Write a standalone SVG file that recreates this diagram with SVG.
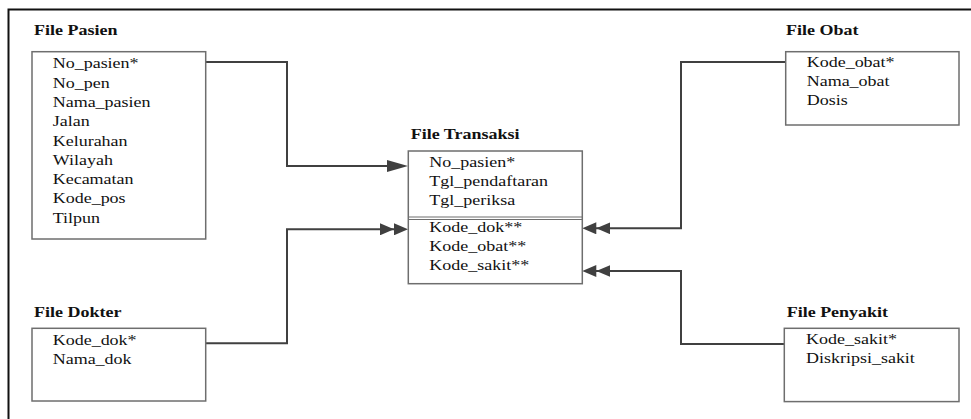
<svg xmlns="http://www.w3.org/2000/svg" width="971" height="419" viewBox="0 0 971 419">
<style>
.t{font-family:"Liberation Serif","Times New Roman",serif;font-size:15px;fill:#111}
.b{font-weight:bold}
.box{fill:#fff;stroke:#6e6e6e;stroke-width:1.5}
.c{fill:none;stroke:#404040;stroke-width:2}
.frame{fill:none;stroke:#111;stroke-width:2}
</style>
<defs>
<marker id="a1" markerUnits="userSpaceOnUse" markerWidth="21" markerHeight="12" viewBox="0 0 21 12" refX="17" refY="6" orient="auto">
<path d="M0,0 L21,6 L0,12 z" fill="#404040"/>
</marker>
<marker id="a2" markerUnits="userSpaceOnUse" markerWidth="28" markerHeight="12" viewBox="0 0 28 12" refX="24" refY="6" orient="auto">
<path d="M0,0 L14,6 L0,12 z M14,0 L28,6 L14,12 z" fill="#404040"/>
</marker>
</defs>
<rect width="971" height="419" fill="#fff"/>
<path class="frame" d="M8.5,419 V9.5 H971"/>

<g id="connectors">
<path class="c" d="M205.7,62 H287 V166 H404" marker-end="url(#a1)"/>
<path class="c" d="M205.7,343.3 H287 V229.3 H404" marker-end="url(#a2)"/>
<path class="c" d="M785.7,62 H681 V228.3 H586.3" marker-end="url(#a2)"/>
<path class="c" d="M784.3,344 H681 V271 H586.3" marker-end="url(#a2)"/>
</g>

<g id="file-pasien">
<text class="t b" transform="translate(34,35) scale(1.2,1)">File Pasien</text>
<rect class="box" x="32" y="51.7" width="173.7" height="187.3"/>
<text class="t" transform="translate(52.7,68.3) scale(1.2,1)">No_pasien*</text>
<text class="t" transform="translate(52.7,87.6) scale(1.2,1)">No_pen</text>
<text class="t" transform="translate(52.7,106.9) scale(1.2,1)">Nama_pasien</text>
<text class="t" transform="translate(52.7,126.2) scale(1.2,1)">Jalan</text>
<text class="t" transform="translate(52.7,145.5) scale(1.2,1)">Kelurahan</text>
<text class="t" transform="translate(52.7,164.8) scale(1.2,1)">Wilayah</text>
<text class="t" transform="translate(52.7,184.1) scale(1.2,1)">Kecamatan</text>
<text class="t" transform="translate(52.7,203.4) scale(1.2,1)">Kode_pos</text>
<text class="t" transform="translate(52.7,222.7) scale(1.2,1)">Tilpun</text>
</g>

<g id="file-dokter">
<text class="t b" transform="translate(34,316.7) scale(1.2,1)">File Dokter</text>
<rect class="box" x="32" y="328.3" width="173.7" height="72.7"/>
<text class="t" transform="translate(52.7,345) scale(1.2,1)">Kode_dok*</text>
<text class="t" transform="translate(52.7,364) scale(1.2,1)">Nama_dok</text>
</g>

<g id="file-transaksi">
<text class="t b" transform="translate(410.7,139.3) scale(1.2,1)">File Transaksi</text>
<rect class="box" x="408.3" y="151" width="174" height="132.7"/>
<path d="M408.3,217 H582.3 M408.3,219.5 H582.3" stroke="#6e6e6e" stroke-width="1.2" fill="none"/>
<text class="t" transform="translate(429.3,166.7) scale(1.2,1)">No_pasien*</text>
<text class="t" transform="translate(429.3,186) scale(1.2,1)">Tgl_pendaftaran</text>
<text class="t" transform="translate(429.3,205) scale(1.2,1)">Tgl_periksa</text>
<text class="t" transform="translate(429.3,231.7) scale(1.2,1)">Kode_dok**</text>
<text class="t" transform="translate(429.3,251) scale(1.2,1)">Kode_obat**</text>
<text class="t" transform="translate(429.3,270) scale(1.2,1)">Kode_sakit**</text>
</g>

<g id="file-obat">
<text class="t b" transform="translate(786,35) scale(1.2,1)">File Obat</text>
<rect class="box" x="785.7" y="51.7" width="173.3" height="73.3"/>
<text class="t" transform="translate(806.7,66.7) scale(1.2,1)">Kode_obat*</text>
<text class="t" transform="translate(806.7,86) scale(1.2,1)">Nama_obat</text>
<text class="t" transform="translate(806.7,105) scale(1.2,1)">Dosis</text>
</g>

<g id="file-penyakit">
<text class="t b" transform="translate(786.7,317) scale(1.2,1)">File Penyakit</text>
<rect class="box" x="784.3" y="328.3" width="174.7" height="73.3"/>
<text class="t" transform="translate(806,344) scale(1.2,1)">Kode_sakit*</text>
<text class="t" transform="translate(806,363.3) scale(1.2,1)">Diskripsi_sakit</text>
</g>
</svg>
